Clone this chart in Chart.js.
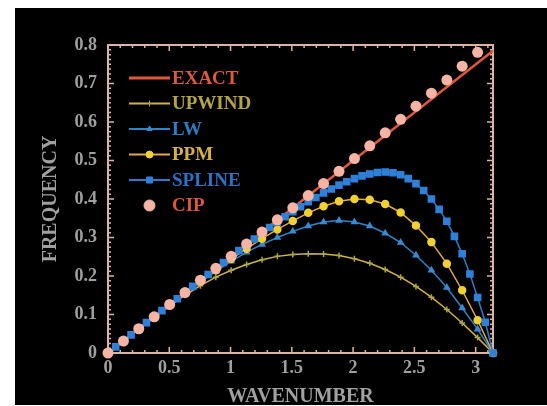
<!DOCTYPE html>
<html>
<head>
<meta charset="utf-8">
<script src="https://cdn.jsdelivr.net/npm/chart.js@4.4.1/dist/chart.umd.min.js"></script>
<style>
  html, body { margin: 0; padding: 0; background: #fff; }
  #wrap { position: absolute; left: 15px; top: 8px; width: 532px; height: 397px; background: #000; }
</style>
</head>
<body>
<div id="wrap"><canvas id="chart1" width="532" height="397"></canvas></div>
<script>
// tick labels
const xTicks = [0, 0.5, 1, 1.5, 2, 2.5, 3];
const yTicks = [0, 0.1, 0.2, 0.3, 0.4, 0.5, 0.6, 0.7, 0.8];

// wavenumbers (coarse grid for most schemes, fine grid for spline)
const kCoarse = [0, 0.126, 0.251, 0.377, 0.503, 0.628, 0.754, 0.880, 1.005, 1.131, 1.257, 1.382, 1.508,
  1.634, 1.759, 1.885, 2.011, 2.136, 2.262, 2.388, 2.513, 2.639, 2.765, 2.890, 3.016, 3.142];
const kFine = [0, 0.063, 0.126, 0.188, 0.251, 0.314, 0.377, 0.440, 0.503, 0.565, 0.628, 0.691, 0.754,
  0.817, 0.880, 0.942, 1.005, 1.068, 1.131, 1.194, 1.257, 1.319, 1.382, 1.445, 1.508, 1.571, 1.634,
  1.696, 1.759, 1.822, 1.885, 1.948, 2.011, 2.073, 2.136, 2.199, 2.262, 2.325, 2.388, 2.450, 2.513,
  2.576, 2.639, 2.702, 2.765, 2.827, 2.890, 2.953, 3.016, 3.079, 3.142];

// frequencies
const exactK = [0, 3.142];
const exact = [0, 0.785];
const upwind = [0, 0.031, 0.062, 0.092, 0.122, 0.150, 0.175, 0.197, 0.215, 0.230, 0.242, 0.251, 0.256,
  0.258, 0.257, 0.253, 0.245, 0.233, 0.217, 0.197, 0.173, 0.145, 0.113, 0.078, 0.040, 0];
const lw = [0, 0.031, 0.063, 0.094, 0.125, 0.155, 0.184, 0.212, 0.238, 0.262, 0.282, 0.300, 0.316,
  0.330, 0.340, 0.344, 0.340, 0.330, 0.311, 0.287, 0.254, 0.215, 0.170, 0.117, 0.062, 0];
const ppm = [0, 0.031, 0.063, 0.094, 0.125, 0.156, 0.186, 0.215, 0.244, 0.271, 0.297, 0.321, 0.343,
  0.364, 0.381, 0.394, 0.400, 0.398, 0.387, 0.365, 0.331, 0.288, 0.232, 0.163, 0.085, 0];
const spline = [0, 0.016, 0.031, 0.047, 0.063, 0.079, 0.094, 0.110, 0.126, 0.141, 0.157, 0.173, 0.188,
  0.204, 0.219, 0.235, 0.250, 0.266, 0.281, 0.296, 0.311, 0.326, 0.340, 0.354, 0.367, 0.380, 0.393,
  0.404, 0.416, 0.426, 0.436, 0.445, 0.453, 0.460, 0.465, 0.469, 0.470, 0.468, 0.463, 0.453, 0.440,
  0.422, 0.400, 0.373, 0.342, 0.303, 0.258, 0.205, 0.144, 0.080, 0];
const cip = [0, 0.031, 0.063, 0.094, 0.126, 0.157, 0.189, 0.220, 0.251, 0.283, 0.314, 0.346, 0.377,
  0.409, 0.440, 0.472, 0.505, 0.538, 0.572, 0.607, 0.641, 0.675, 0.709, 0.745, 0.781];

const pts = (xs, ys) => ys.map((v, i) => ({ x: xs[i], y: v }));

const serif = "'Liberation Serif', 'DejaVu Serif', serif";
const grey = "#a0a0a0";
const frameColor = "#dcb4a4";

// inward ticks and box
const framePlugin = {
  id: "frame",
  beforeDatasetsDraw(chart) {
    const { ctx, chartArea: a, scales: { x, y } } = chart;
    ctx.save();
    ctx.strokeStyle = frameColor;
    ctx.lineWidth = 1.5;
    ctx.beginPath();
    for (let i = 0; i <= 31; i++) {
      const px = x.getPixelForValue(i * 0.1);
      const len = i % 5 === 0 ? 6 : 3;
      ctx.moveTo(px, a.bottom); ctx.lineTo(px, a.bottom - len);
      ctx.moveTo(px, a.top); ctx.lineTo(px, a.top + len);
    }
    for (let i = 0; i <= 64; i++) {
      const py = y.getPixelForValue(i * 0.0125);
      const len = i % 8 === 0 ? 6 : 3;
      ctx.moveTo(a.left, py); ctx.lineTo(a.left + len, py);
      ctx.moveTo(a.right, py); ctx.lineTo(a.right - len, py);
    }
    ctx.stroke();
    ctx.lineWidth = 2;
    ctx.strokeRect(a.left, a.top, a.right - a.left, a.bottom - a.top);
    ctx.restore();
  },
};

// legend inside the plot, text coloured like the series
const legendPlugin = {
  id: "insideLegend",
  afterDatasetsDraw(chart) {
    const { ctx, chartArea: a } = chart;
    ctx.save();
    ctx.font = "bold 19px " + serif;
    ctx.textBaseline = "middle";
    chart.data.datasets.forEach((ds, row) => {
      const yy = a.top + 33 + row * 25.5;
      const x0 = a.left + 21, x1 = a.left + 62, xm = (x0 + x1) / 2;
      if (ds.showLine !== false) {
        ctx.strokeStyle = ds.borderColor;
        ctx.lineWidth = ds.borderWidth + 0.5;
        ctx.beginPath(); ctx.moveTo(x0, yy); ctx.lineTo(x1, yy); ctx.stroke();
      }
      if (ds.pointRadius > 0) {
        ctx.fillStyle = ds.pointBackgroundColor;
        ctx.strokeStyle = ds.pointBorderColor;
        ctx.lineWidth = 1;
        Chart.helpers.drawPoint(ctx, { pointStyle: ds.pointStyle, radius: ds.pointRadius, rotation: 0, borderWidth: 1 }, xm, yy);
      }
      ctx.fillStyle = ds.textColor;
      ctx.fillText(ds.label, x1 + 2, yy + 1);
    });
    ctx.restore();
  },
};

new Chart(document.getElementById("chart1"), {
  type: "scatter",
  data: {
    datasets: [
      { label: "EXACT", data: pts(exactK, exact), showLine: true, borderColor: "#e0583c", borderWidth: 2.5,
        pointRadius: 0, textColor: "#dc583e", order: 3 },
      { label: "UPWIND", data: pts(kCoarse, upwind), showLine: true, borderColor: "#d2b050", borderWidth: 1.5,
        pointStyle: "cross", pointRadius: 3, pointBackgroundColor: "#a8a848", pointBorderColor: "#a8a848",
        textColor: "#b4a444", order: 5 },
      { label: "LW", data: pts(kCoarse, lw), showLine: true, borderColor: "#2e84c8", borderWidth: 1.5,
        pointStyle: "triangle", pointRadius: 3, pointBackgroundColor: "#3a8ad2", pointBorderColor: "#3a8ad2",
        textColor: "#2e7cc0", order: 4 },
      { label: "PPM", data: pts(kCoarse, ppm), showLine: true, borderColor: "#e0aa44", borderWidth: 1.5,
        pointStyle: "circle", pointRadius: 3.5, pointBackgroundColor: "#f0d034", pointBorderColor: "#f0d034",
        textColor: "#d8b040", order: 2 },
      { label: "SPLINE", data: pts(kFine, spline), showLine: true, borderColor: "#2a7cd0", borderWidth: 1.5,
        pointStyle: "rect", pointRadius: 4.3, pointBackgroundColor: "#2f80d8", pointBorderColor: "#2f80d8",
        textColor: "#2a72c4", order: 1 },
      { label: "CIP", data: pts(kCoarse, cip), showLine: false, borderColor: "#f6b4a4", borderWidth: 0,
        pointStyle: "circle", pointRadius: 5.5, pointBackgroundColor: "#f6b4a4", pointBorderColor: "#f6b4a4",
        textColor: "#d8583c", order: 0 },
    ],
  },
  options: {
    responsive: false,
    animation: false,
    clip: false,
    layout: { padding: { top: 37, right: 54, left: 0, bottom: 0 } },
    plugins: { legend: { display: false }, tooltip: { enabled: false } },
    elements: { point: { pointHoverRadius: 0 } },
    scales: {
      x: {
        type: "linear", min: 0, max: 3.1416,
        afterBuildTicks: (s) => { s.ticks = xTicks.map((v) => ({ value: v })); },
        afterFit: (s) => { s.height = 52; },
        grid: { display: false, drawTicks: false },
        border: { display: false },
        ticks: { color: grey, padding: 5, maxRotation: 0, autoSkip: false, callback: (v) => String(v),
          font: { family: serif, weight: "bold", size: 18 } },
        title: { display: true, text: "WAVENUMBER", color: grey, padding: { top: 0, bottom: -4 },
          font: { family: serif, weight: "bold", size: 20 } },
      },
      y: {
        type: "linear", min: 0, max: 0.8,
        afterBuildTicks: (s) => { s.ticks = yTicks.map((v) => ({ value: v })); },
        afterFit: (s) => { s.width = 93; },
        grid: { display: false, drawTicks: false },
        border: { display: false },
        ticks: { color: grey, padding: 11, autoSkip: false, callback: (v) => String(v),
          font: { family: serif, weight: "bold", size: 18 } },
        title: { display: true, text: "FREQUENCY", color: grey, padding: { top: 24, bottom: 0 },
          font: { family: serif, weight: "bold", size: 20 } },
      },
    },
  },
  plugins: [framePlugin, legendPlugin],
});
</script>
</body>
</html>
